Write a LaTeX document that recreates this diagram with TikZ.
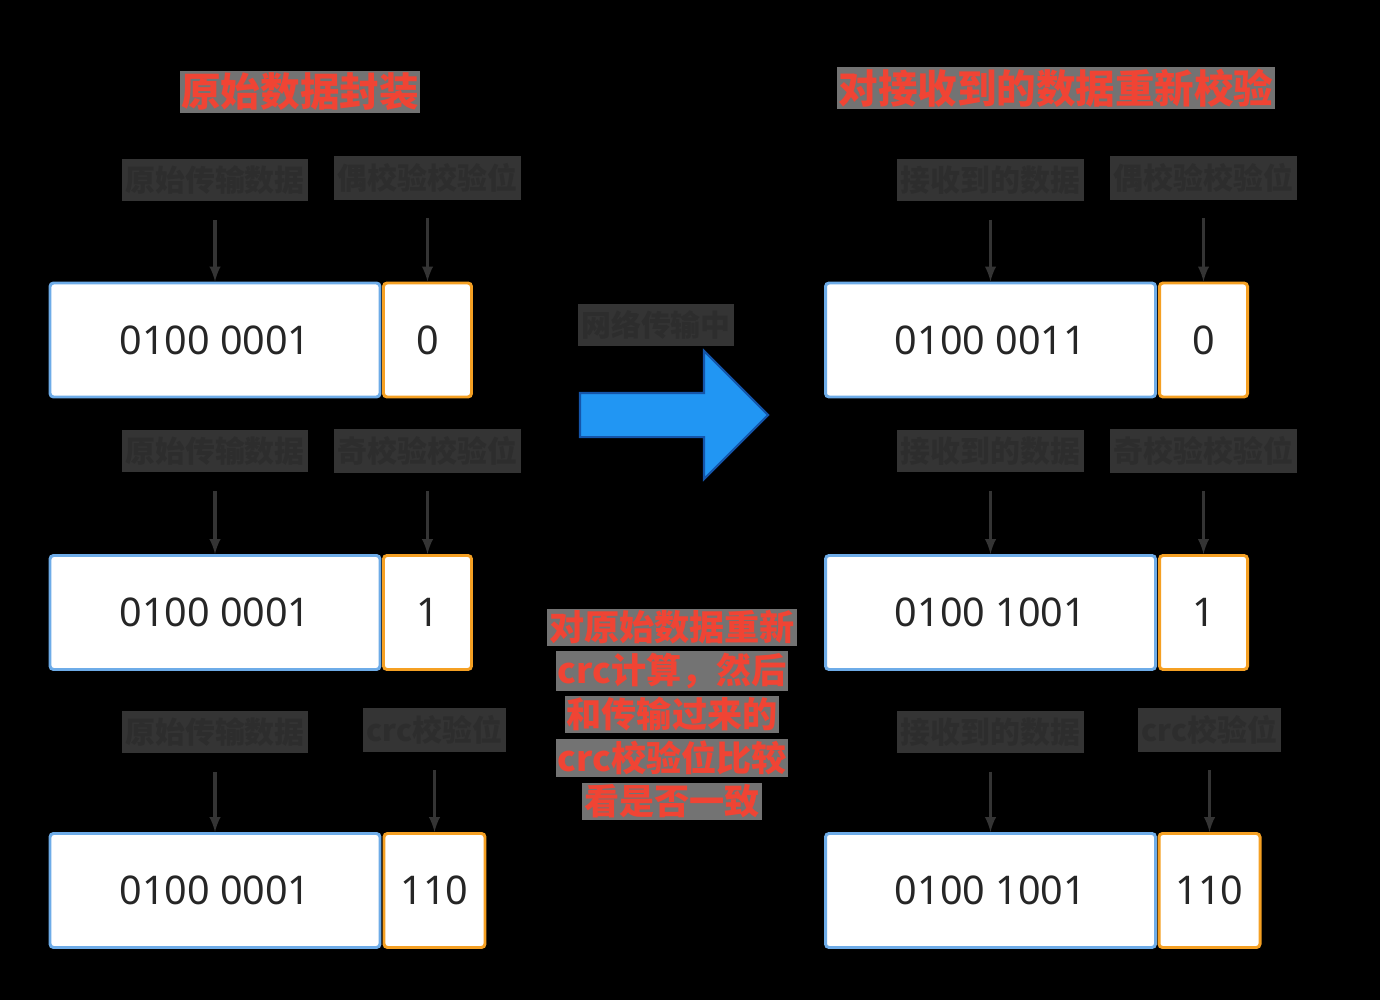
\documentclass[tikz,border=0pt]{standalone}
\usepackage{fontspec}
\setmainfont{Noto Sans}
\newfontfamily\cjk{Noto Sans CJK SC}
\usetikzlibrary{shapes.arrows}
\definecolor{boxblue}{RGB}{110,172,232}
\definecolor{boxorange}{RGB}{245,160,35}
\definecolor{titlered}{RGB}{240,68,52}
\definecolor{tagbg}{RGB}{52,52,52}
\definecolor{tagfg}{RGB}{45,45,45}
\definecolor{flowblue}{RGB}{33,150,243}
\definecolor{flowedge}{RGB}{20,85,170}

\begin{document}
\begin{tikzpicture}[x=0.02cm,y=-0.02cm,
  data/.style={draw=boxblue,line width=1.7pt,fill=white,rounded corners=2pt,minimum width=330*\pxu,minimum height=114*\pxu,inner sep=0pt,text=black!85,font=\fontsize{22.5}{27}\selectfont},
  bit/.style={data,draw=boxorange,minimum width=88*\pxu},
  bitwide/.style={bit,minimum width=101*\pxu},
  tag/.style={fill=tagbg,text=tagfg,inner xsep=2pt,inner ysep=4pt,font=\cjk\bfseries\fontsize{17}{20}\selectfont},
  title/.style={fill=black!55,text=titlered,inner sep=1pt,font=\cjk\bfseries\fontsize{22.5}{26}\selectfont},
  note/.style={title,font=\cjk\bfseries\fontsize{20}{24}\selectfont},
  arr/.style={-latex,draw=tagbg,line width=1.9pt,shorten <=18*\pxu}]
\def\pxu{0.02cm}
\def\ya{340}
\def\yb{612.5}
\def\yc{890.5}

\fill[black] (0,0) rectangle (1380,1000);
\useasboundingbox (0,0) rectangle (1380,1000);

\node[title] (TL) at (300,92) {原始数据封装};
\node[title] (TR) at (1056,88) {对接收到的数据重新校验};

\node[data] (D1) at (215,\ya) {0100 0001};
\node[bit] (P1) at (427.5,\ya) {0};
\node[data] (D2) at (215,\yb) {0100 0001};
\node[bit] (P2) at (427.5,\yb) {1};
\node[data] (D3) at (215,\yc) {0100 0001};
\node[bitwide] (P3) at (434.5,\yc) {110};

\node[data] (E1) at (990.5,\ya) {0100 0011};
\node[bit] (Q1) at (1203.5,\ya) {0};
\node[data] (E2) at (990.5,\yb) {0100 1001};
\node[bit] (Q2) at (1203.5,\yb) {1};
\node[data] (E3) at (990.5,\yc) {0100 1001};
\node[bitwide] (Q3) at (1209.5,\yc) {110};

\node[tag] (LD1) at (215,180) {原始传输数据};
\node[tag] (LP1) at (427.5,178) {偶校验校验位};
\node[tag] (LD2) at (215,451) {原始传输数据};
\node[tag] (LP2) at (427.5,451) {奇校验校验位};
\node[tag] (LD3) at (215,732) {原始传输数据};
\node[tag] (LP3) at (434.5,730) {crc校验位};

\node[tag] (MD1) at (990.5,180) {接收到的数据};
\node[tag] (MP1) at (1203.5,178) {偶校验校验位};
\node[tag] (MD2) at (990.5,451) {接收到的数据};
\node[tag] (MP2) at (1203.5,451) {奇校验校验位};
\node[tag] (MD3) at (990.5,732) {接收到的数据};
\node[tag] (MP3) at (1209.5,730) {crc校验位};

\draw[arr] (LD1) -- (D1);
\draw[arr] (LP1) -- (P1);
\draw[arr] (LD2) -- (D2);
\draw[arr] (LP2) -- (P2);
\draw[arr] (LD3) -- (D3);
\draw[arr] (LP3) -- (P3);
\draw[arr] (MD1) -- (E1);
\draw[arr] (MP1) -- (Q1);
\draw[arr] (MD2) -- (E2);
\draw[arr] (MP2) -- (Q2);
\draw[arr] (MD3) -- (E3);
\draw[arr] (MP3) -- (Q3);

\node[tag] (via) at (656,325) {网络传输中};
\node[single arrow,fill=flowblue,draw=flowedge,line width=1.2pt,minimum height=188*\pxu,inner sep=21*\pxu,single arrow head extend=42*\pxu] (flow) at (663,415) {};

\foreach \txt [count=\i] in {对原始数据重新,crc计算，然后,和传输过来的,crc校验位比较,看是否一致}
  \node[note] (N\i) at (672,584+43.5*\i) {\txt};
\end{tikzpicture}
\end{document}
